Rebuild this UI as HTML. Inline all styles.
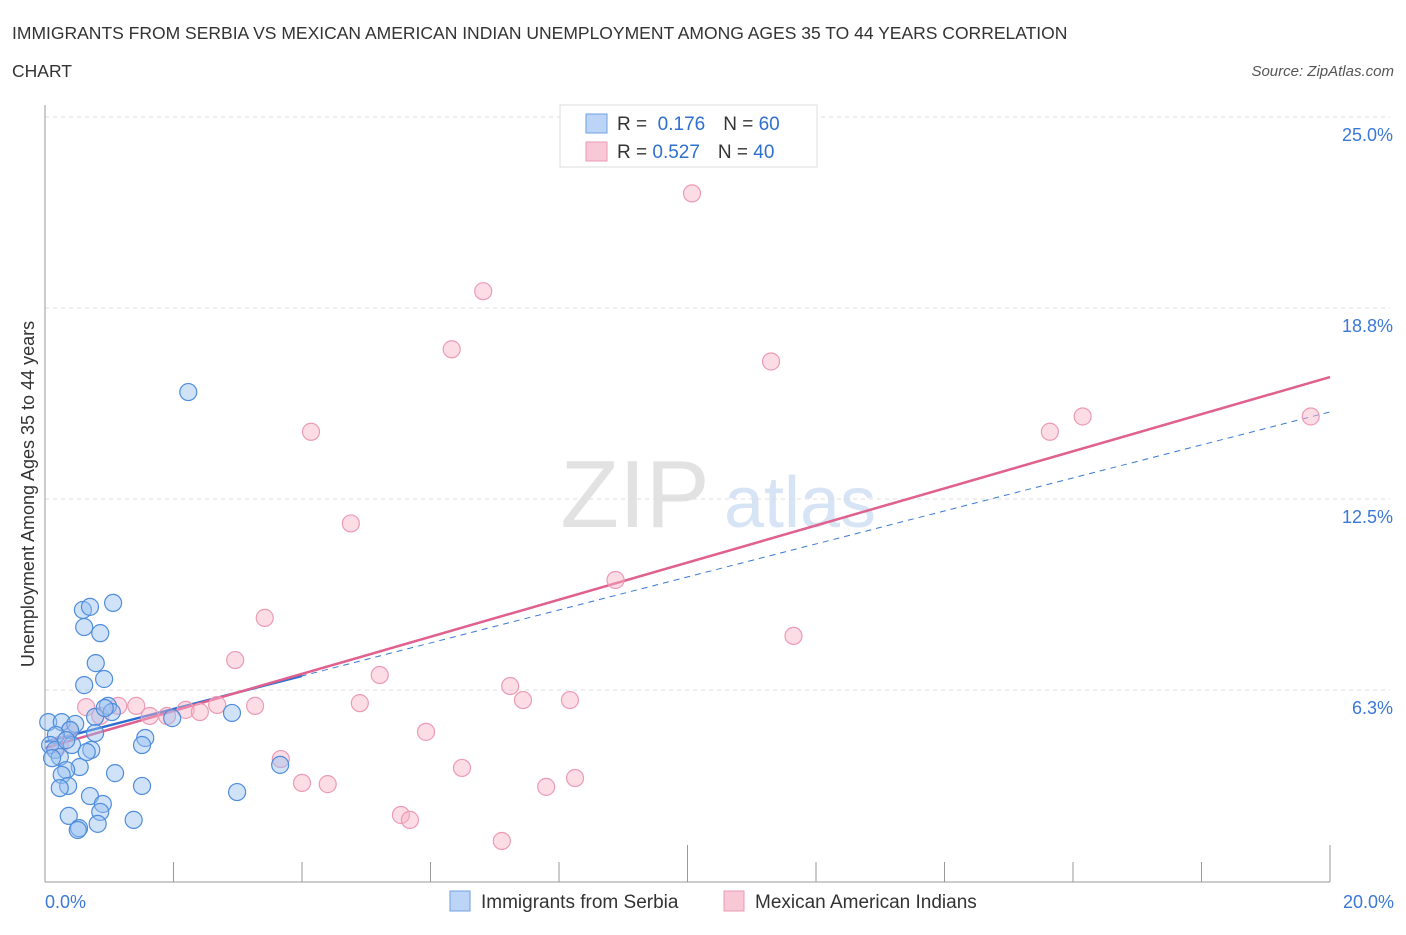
<!DOCTYPE html>
<html><head><meta charset="utf-8"><style>
body{margin:0;background:#fff;font-family:"Liberation Sans",sans-serif}
svg text{font-family:"Liberation Sans",sans-serif}
</style></head><body>
<svg id="c" width="1406" height="930">
<text x="12" y="39" font-size="17.5" fill="#333">IMMIGRANTS FROM SERBIA VS MEXICAN AMERICAN INDIAN UNEMPLOYMENT AMONG AGES 35 TO 44 YEARS CORRELATION</text>
<text x="12" y="77" font-size="17.5" fill="#333">CHART</text>
<text x="1394" y="76" font-size="15" fill="#555" font-style="italic" text-anchor="end">Source: ZipAtlas.com</text>
<text x="635" y="527" font-size="96" fill="#e2e2e2" font-family="Liberation Serif" text-anchor="middle">ZIP</text>
<text x="800" y="527" font-size="72" fill="#d6e4f5" text-anchor="middle">atlas</text>
<text transform="translate(34,494) rotate(-90)" font-size="18" fill="#333" text-anchor="middle">Unemployment Among Ages 35 to 44 years</text>
<g id="grid"></g><g id="axes"></g><g id="lines"></g><g id="pts"></g>
<g>
<rect x="560" y="105" width="257" height="62" fill="#fff" stroke="#ddd"/>
<rect x="586" y="114" width="21" height="19" fill="#bcd4f5" stroke="#6f9fe0"/>
<rect x="586" y="142" width="21" height="19" fill="#f8c8d7" stroke="#e99ab4"/>
<text x="617" y="130" font-size="19" fill="#333">R = <tspan fill="#2f6fd0">&#160;0.176</tspan><tspan dx="18" fill="#333">N = </tspan><tspan fill="#2f6fd0">60</tspan></text>
<text x="617" y="158" font-size="19" fill="#333">R = <tspan fill="#2f6fd0">0.527</tspan><tspan dx="18" fill="#333">N = </tspan><tspan fill="#2f6fd0">40</tspan></text>
</g>
<g>
<rect x="450" y="891" width="20" height="20" fill="#bcd4f5" stroke="#6f9fe0"/>
<text x="481" y="908" font-size="19" fill="#333">Immigrants from Serbia</text>
<rect x="724" y="891" width="20" height="20" fill="#f8c8d7" stroke="#e99ab4"/>
<text x="755" y="908" font-size="19" fill="#333">Mexican American Indians</text>
</g>
</svg>
<script>
const yTicks=[6.25,12.5,18.75,25];
const yTickLabels=["6.3%","12.5%","18.8%","25.0%"];
const xLabels=["0.0%","20.0%"];
const blueX=[2.23,0.59,0.70,1.06,0.61,0.86,0.79,0.61,0.92,0.98,1.04,0.78,0.93,1.98,2.91,0.05,0.26,0.47,0.39,0.78,0.17,1.56,1.51,0.08,0.42,0.72,0.16,0.23,0.54,0.33,0.26,1.09,3.66,0.36,0.23,1.51,2.99,0.70,0.90,0.86,0.37,1.38,0.82,0.53,0.51,0.65,0.33,0.11];
const blueY=[16.0,8.87,8.97,9.10,8.31,8.11,7.13,6.41,6.61,5.73,5.53,5.37,5.66,5.33,5.50,5.20,5.20,5.14,4.94,4.84,4.78,4.68,4.45,4.45,4.45,4.29,4.29,4.06,3.73,3.63,3.47,3.53,3.80,3.11,3.04,3.11,2.91,2.78,2.52,2.26,2.13,2.00,1.87,1.73,1.67,4.22,4.61,4.02];
const pinkX=[10.07,6.82,6.33,11.30,4.14,15.64,16.15,19.70,4.76,8.88,3.42,11.65,2.96,5.21,7.24,7.44,8.17,4.90,3.27,2.68,2.19,2.41,1.90,1.63,1.42,1.14,0.64,0.86,5.93,3.67,6.49,8.25,4.00,4.40,7.80,5.54,5.68,7.11,0.23,0.39];
const pinkY=[22.5,19.3,17.4,17.0,14.7,14.7,15.2,15.2,11.7,9.85,8.61,8.02,7.23,6.74,6.38,5.92,5.92,5.82,5.73,5.76,5.60,5.53,5.40,5.40,5.73,5.73,5.69,5.40,4.88,3.99,3.70,3.37,3.21,3.17,3.08,2.16,2.00,1.31,4.45,4.94];
const blueFit=[4.55,0.54];
const pinkFit=[4.35,0.607];
const NS="http://www.w3.org/2000/svg";
const X=v=>45+v/20*1285, Y=v=>881-v/6.25*191;
function mk(t,a,p){const e=document.createElementNS(NS,t);for(const k in a)e.setAttribute(k,a[k]);p.appendChild(e);return e;}
const g=document.getElementById('grid'),ax=document.getElementById('axes'),ln=document.getElementById('lines'),pt=document.getElementById('pts');
yTicks.forEach((t,i)=>{
const l=mk('line',{x1:45,x2:1390,y1:Y(t),y2:Y(t),stroke:'#ddd','stroke-dasharray':'4,4'},g);


const tx=mk('text',{x:1393,y:Y(t)+24,'font-size':18,fill:'#3b78d8','text-anchor':'end'},g);
tx.textContent=yTickLabels[i];


});
const a1=mk('line',{x1:45,x2:45,y1:105,y2:882,stroke:'#999'},ax);


const a2=mk('line',{x1:45,x2:1330,y1:882,y2:882,stroke:'#999'},ax);


for(let i=0;i<=10;i++){const t=mk('line',{x1:X(i*2),x2:X(i*2),y1:882,y2:(i%5==0?845:862),stroke:'#999'},ax);

}
[[0,'start',45],[20,'end',1394]].forEach((d,i)=>{const t=mk('text',{x:d[2],y:908,'font-size':18,fill:'#3b78d8','text-anchor':d[1]},ax);t.textContent=xLabels[i];

});
function pts(xs,ys,fill,st,name){xs.forEach((x,i)=>{const c=mk('circle',{cx:X(x),cy:Y(ys[i]),r:8.5,fill:fill,stroke:st,'stroke-width':1.2},pt);

});}
pts(pinkX,pinkY,'rgba(248,180,200,0.45)','#ec9ab5','pink-point');
pts(blueX,blueY,'rgba(150,190,240,0.45)','#4f8ddc','blue-point');
const b1=mk('line',{x1:X(0),y1:Y(blueFit[0]),x2:X(20),y2:Y(blueFit[0]+blueFit[1]*20),stroke:'#3b78d8','stroke-width':1,'stroke-dasharray':'6,5'},ln);


const b2=mk('line',{x1:X(0),y1:Y(blueFit[0]),x2:X(4),y2:Y(blueFit[0]+blueFit[1]*4),stroke:'#2f6fd0','stroke-width':2.5},ln);


const p1=mk('line',{x1:X(0),y1:Y(pinkFit[0]),x2:X(20),y2:Y(pinkFit[0]+pinkFit[1]*20),stroke:'#e0608e','stroke-width':2.5},ln);


</script>
</body></html>
